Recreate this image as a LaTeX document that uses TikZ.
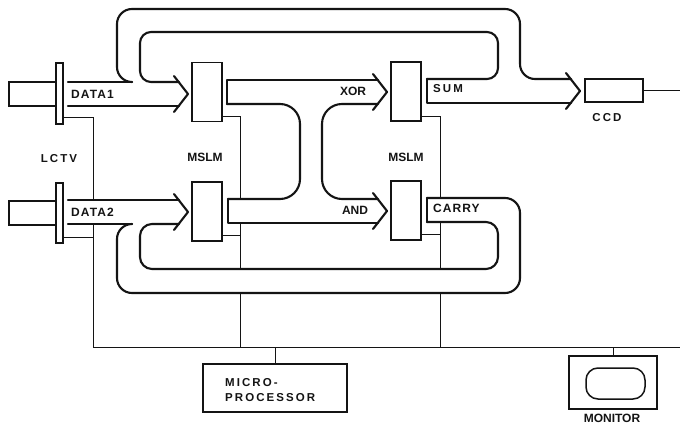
\documentclass[tikz,border=0pt]{standalone}
\usepackage{fontspec}
\newfontfamily\tightfont{Liberation Sans}
\newfontfamily\lblfont[LetterSpace=9]{Liberation Sans}
\newfontfamily\widefont[LetterSpace=18]{Liberation Sans}
\usetikzlibrary{calc}
\definecolor{Ink}{HTML}{141414}
\tikzset{
  tube/.style={draw=Ink,line width=2.1pt,line cap=round,line join=round},
  wire/.style={draw=Ink,line width=.9pt},
  box/.style={rectangle,draw=Ink,line width=1.6pt,fill=white,inner sep=0pt,outer sep=0pt},
  slm/.style={box,minimum width=30pt,minimum height=59pt},
  bar/.style={box,minimum width=7pt,minimum height=60pt,line width=1.5pt},
  feed/.style={box,minimum width=47pt,minimum height=24pt,line width=1.8pt},
  lab/.style={font=\tightfont\bfseries\fontsize{12}{15}\selectfont,inner sep=0pt,text=Ink},
  spacedlab/.style={lab,font=\lblfont\bfseries\fontsize{12}{15}\selectfont},
  widelab/.style={lab,font=\widefont\bfseries\fontsize{11.5}{15}\selectfont}
}

\begin{document}
\begin{tikzpicture}[x=1pt,y=-1pt]
  \path[use as bounding box,fill=white] (0,0) rectangle (680,425);
  % devices
  \node[feed] (in1) at (32.5,94) {};
  \node[feed] (in2) at (32.5,213) {};
  \node[bar,minimum height=61pt] (lctv1) at (59.5,93.5) {};
  \node[bar] (lctv2) at (59.5,213) {};
  \node[slm] (m1a) at (207,92) {};
  \node[slm] (m1b) at (207,211.5) {};
  \node[slm] (m2a) at (406,91.5) {};
  \node[slm] (m2b) at (406,210.5) {};
  \node[box,minimum width=58pt,minimum height=23pt,line width=1.5pt] (ccd) at (614,90.5) {};
  \node[box,minimum width=144pt,minimum height=48pt,line width=1.4pt] (mp) at (275,388) {};
  \node[box,minimum width=88pt,minimum height=53pt,line width=1.5pt] (mon) at (613,382.5) {};
  \node[box,minimum width=59pt,minimum height=31pt,rounded corners=12pt,line width=1.5pt] (screen) at (615.5,383.5) {};
  \coordinate (busL) at (93,347);
  \coordinate (busA) at (240,347);
  \coordinate (busB) at (440,347);
  \coordinate (busR) at (680,347);

  % control wires
  \draw[wire] ([yshift=7pt]lctv1.south east) -| (busL) -- (busR);
  \draw[wire] ([yshift=6pt]lctv2.south east) -| (busL);
  \draw[wire] ([yshift=5pt]m1a.south east) -| (busA);
  \draw[wire] ([yshift=6pt]m1b.south east) -| (busA);
  \draw[wire] ([yshift=5pt]m2a.south east) -| (busB);
  \draw[wire] ([yshift=6pt]m2b.south east) -| (busB);
  \draw[wire] (mp.north) -- (mp.north |- busL);
  \draw[wire] (mon.north) -- (mon.north |- busL);
  \draw[wire] (ccd.east) -- (ccd.east -| busR);

  % light paths, cleared where wires run under them
  \fill[white] (64,201) rectangle (178,223);
  \fill[white] (229,200) rectangle (377,222);
  \fill[white] (428,199) rectangle (497,221);
  \fill[white] (141,270) rectangle (497,292);

  \draw[tube] (68,82) -- (132,82);
  \draw[tube] (68,106) -- (179,106);
  \draw[tube,rounded corners=15pt] (132,82) -- (117,82) -- (117,9) -- (520,9) -- (520,79) -- (571,79);
  \draw[tube,rounded corners=11pt] (179,82) -- (140,82) -- (140,32) -- (498,32) -- (498,79) -- (427,79);
  \draw[tube] (427,79) -- (427,103) -- (571,103);

  \draw[tube] (227,104) -- (227,80) -- (378,80);
  \draw[tube,rounded corners=20pt] (227,104) -- (300,104) -- (300,199) -- (228,199);
  \draw[tube] (228,199) -- (228,223) -- (378,223);
  \draw[tube,rounded corners=20pt] (378,104) -- (322,104) -- (322,199) -- (378,199);

  \draw[tube] (68,200) -- (179,200);
  \draw[tube] (68,224) -- (132,224);
  \draw[tube,rounded corners=15pt] (132,224) -- (117,224) -- (117,293) -- (520,293) -- (520,198) -- (427,198);
  \draw[tube] (427,198) -- (427,222);
  \draw[tube,rounded corners=12pt] (427,222) -- (498,222) -- (498,269) -- (140,269) -- (140,224) -- (179,224);

  \foreach \tx/\ty in {188/94,188/212,387/92,387/211,580/91}
    \draw[tube] (\tx,\ty) ++(-14,-18) -- ++(14,18) -- ++(-14,18);

  % labels
  \node[spacedlab,anchor=west] (tData1) at (71,94) {DATA1};
  \node[spacedlab,anchor=west] (tData2) at (71,212) {DATA2};
  \node[widelab] (tLctv) at (59,159) {LCTV};
  \node[lab] (tMslm1) at (205,157) {MSLM};
  \node[lab] (tMslm2) at (406,157) {MSLM};
  \node[lab] (tXor) at (353,91) {XOR};
  \node[lab] (tAnd) at (355,210) {AND};
  \node[widelab,anchor=west] (tSum) at (433,89) {SUM};
  \node[spacedlab,anchor=west] (tCarry) at (433,208) {CARRY};
  \node[widelab] (tCcd) at (607,118) {CCD};
  \node[widelab,anchor=west,align=left] (tMp) at (225,390.5) {MICRO-\\PROCESSOR};
  \node[lab] (tMon) at (612,418) {MONITOR};
\end{tikzpicture}
\end{document}
